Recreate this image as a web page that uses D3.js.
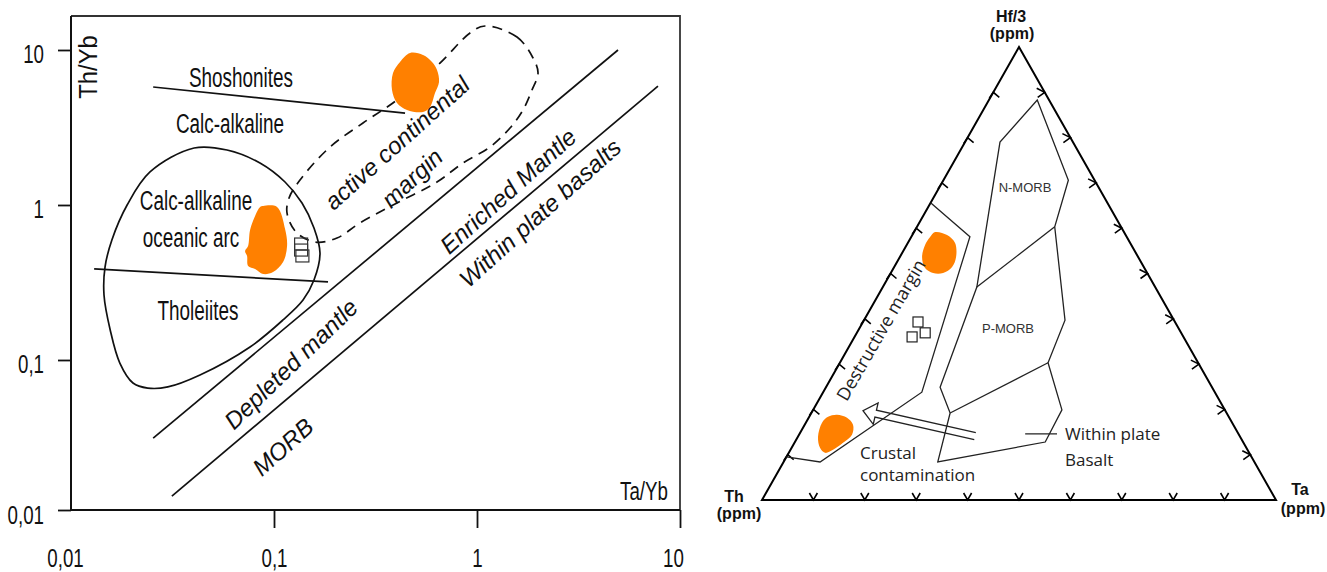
<!DOCTYPE html>
<html><head><meta charset="utf-8">
<script src="https://cdn.jsdelivr.net/npm/d3@7"></script>
<style>
html,body{margin:0;padding:0;background:#fff;}
svg{display:block;}
</style></head><body>
<svg id="chart" width="1327" height="572"></svg>
<script>
// ================= DATA : left panel (Th/Yb vs Ta/Yb, log-log) =================
const tickValues = [0.01, 0.1, 1, 10];
const tickLabels = ["0,01", "0,1", "1", "10"];
const shoshoniteLine = [[0.0254, 5.77], [0.442, 3.92]];
const tholeiiteLine  = [[0.013, 0.387], [0.1845, 0.319]];
const upperArrayLine = [[0.0254, 0.0313], [4.95, 10.0]];
const lowerArrayLine = [[0.0314, 0.01325], [7.79, 5.85]];
const oceanicArcEnvelope = [
  [0.0404,2.332],[0.0587,2.264],[0.0853,1.866],[0.1133,1.407],[0.1374,1.030],[0.1574,0.711],
  [0.1685,0.490],[0.1574,0.328],[0.139,0.2438],[0.1107,0.1812],[0.0762,0.1213],[0.0432,0.0800],
  [0.0300,0.0670],[0.0239,0.0659],[0.0202,0.0711],[0.0174,0.0956],[0.0156,0.1562],[0.01454,0.2626],
  [0.01471,0.398],[0.0159,0.5945],[0.0189,0.9995],[0.0245,1.633]
];
const continentalMarginEnvelope = [
  [1.095,14.28],[1.574,12.13],[1.888,8.88],[1.998,7.106],[1.866,5.52],[1.685,4.10],[1.454,3.138],
  [1.159,2.367],[0.853,1.866],[0.635,1.407],[0.4036,1.030],[0.2652,0.766],[0.2043,0.612],
  [0.1592,0.577],[0.1284,0.669],[0.1159,0.888],[0.1186,1.109],[0.1343,1.450],[0.1888,2.367],
  [0.2744,3.381],[0.4036,4.758],[0.657,8.243],[0.924,12.87]
];
const leftFieldCentres = [[0.0914, 0.5945], [0.495, 6.13]];   // orange literature fields
const sampleTaYb = [0.136, 0.136, 0.138];
const sampleThYb = [0.560, 0.512, 0.469];

// ================= DATA : right panel ternary  [Th, Hf/3, Ta] in % =================
const destructiveMargin = [[34.4,65.6,0],[30.5,58.1,11.4],[57.0,23.8,19.2],[84.5,8.4,7.1],[90.5,9.5,0]];
const morbOutline = [[2.3,88.3,9.4],[5.1,70.6,24.3],[12.9,60.3,26.8],[21.2,39.7,39.1],[29.2,30.3,40.5],
  [31.7,19.9,48.4],[38.5,12.8,48.7],[61.6,8.4,30.0],[53.8,19.2,27.0],[52.9,24.9,22.2],[34.7,47.0,18.3],[14.2,79.0,6.8]];
const nmorbDivider = [[12.9,60.3,26.8],[34.7,47.0,18.3]];
const pmorbDivider = [[53.8,19.2,27.0],[29.2,30.3,40.5]];
const wpbLeader = [[41.5,14.6,43.9],[35.3,14.6,50.1]];
const crustalArrow = [[51.5,14.1,34.4],[70.5,19.7,9.8]];  // tail, tip
const ternFieldCentres = [[38.3,54.5,7.2],[78.3,14.6,7.1]];
const ternSamples = [[50.0,39.3,10.7],[52.8,36.0,11.2],[49.8,36.9,13.3]];
const ternTicks = [10,20,30,40,50,60,70,80,90];

// shapes of the hand-drawn orange fields (pixel outline around centre)
const blobLeft1 = [[-3,-34],[11,-33],[19,-11],[21,6],[17,22],[7,32],[-3,34],[-11,29],[-18,26],[-19,16],[-21,11],[-18,6],[-16,-10],[-11,-24],[-6,-33]];
const blobLeft2 = [[-5,-30],[8,-28],[17,-21],[22,-13],[24,-1],[20,10],[15,24],[8,29],[-8,27],[-18,20],[-23,7],[-22,-10],[-15,-21]];
const blobTern1 = [[-4,-21],[8,-18],[16,-10],[17,4],[13,14],[4,20],[-6,20],[-14,15],[-17,4],[-14,-8],[-9,-16]];
const blobTern2 = [[1,-19],[11,-16],[17,-9],[16,1],[7,9],[-3,16],[-11,19],[-16,14],[-18,3],[-14,-11],[-8,-17]];

// ================= DRAWING =================
const svg = d3.select("#chart");
const ORANGE = "#FF8000";
const INK = "#111";
const SANS = "'Liberation Sans',Arial,sans-serif";
const HUM = "'Open Sans','Noto Sans',sans-serif";

function condense(sel, f){
  sel.each(function(){
    const w = this.getComputedTextLength();
    d3.select(this).attr("textLength", w*f).attr("lengthAdjust","spacingAndGlyphs");
  });
  return sel;
}

// ---------- left panel ----------
const x = d3.scaleLog().domain([0.01, 10]).range([71, 680]);
const y = d3.scaleLog().domain([0.01077, 16.57]).range([510, 16]).clamp(true);
const L = svg.append("g");
const [x0, x1] = x.range(), [y0, y1] = y.range();

// frame (top/right)
L.append("path").attr("d", `M${x0},${y1}H${x1}V${y0}`).attr("fill","none").attr("stroke","#333").attr("stroke-width",1.8);

// axes
const yAxis = d3.axisLeft(y).tickValues(tickValues).tickSize(13).tickPadding(14)
  .tickFormat((d,i)=>tickLabels[i]);
const gy = L.append("g").attr("transform",`translate(${x0},0)`).call(yAxis);
const xAxis = d3.axisBottom(x).tickValues(tickValues).tickSize(18).tickPadding(14)
  .tickFormat((d,i)=>tickLabels[i]);
const gx = L.append("g").attr("transform",`translate(0,${y0})`).call(xAxis);
[gx, gy].forEach(g=>{
  g.select(".domain").remove();
  g.attr("font-family", SANS).attr("font-size", 26);
  g.selectAll(".tick line").attr("stroke", INK).attr("stroke-width", 1.8);
  g.selectAll(".tick text").attr("fill", INK);
  condense(g.selectAll(".tick text"), 0.72);
});
gy.selectAll(".tick text").attr("dy", null).attr("y", 13);
gx.selectAll(".tick text").attr("dy", null).attr("y", 57);
gx.selectAll(".tick").filter(d=>d===0.01).select("line").remove();
gx.selectAll(".tick").filter(d=>d===0.01).select("text").attr("x",-6);
gx.selectAll(".tick").filter(d=>d===10).select("text").attr("x",-7);
// axis lines
L.append("path").attr("d", `M${x0},${y1}V${y0}H${x1}`).attr("fill","none").attr("stroke",INK).attr("stroke-width",2);

// axis titles
condense(L.append("text").attr("transform",`translate(97,67) rotate(-90)`).attr("text-anchor","middle")
  .attr("font-family",SANS).attr("font-size",25).attr("fill",INK).text("Th/Yb"), 0.95);
condense(L.append("text").attr("x",668).attr("y",500).attr("text-anchor","end")
  .attr("font-family",SANS).attr("font-size",25).attr("fill",INK).text("Ta/Yb"), 0.75);

const lineGen = d3.line().x(d=>x(d[0])).y(d=>y(d[1]));
[shoshoniteLine, tholeiiteLine, upperArrayLine, lowerArrayLine].forEach(ln=>{
  L.append("path").attr("d", lineGen(ln)).attr("fill","none").attr("stroke",INK).attr("stroke-width",1.7);
});
L.append("path").attr("d", lineGen.curve(d3.curveCatmullRomClosed)(oceanicArcEnvelope))
  .attr("fill","none").attr("stroke",INK).attr("stroke-width",1.7);
L.append("path").attr("d", lineGen.curve(d3.curveCatmullRomClosed)(continentalMarginEnvelope))
  .attr("fill","none").attr("stroke",INK).attr("stroke-width",1.7).attr("stroke-dasharray","10,7");

const blobGen = d3.line().curve(d3.curveCatmullRomClosed);
function blob(g, cx, cy, shape){
  g.append("path").attr("d", blobGen(shape.map(o=>[cx+o[0], cy+o[1]]))).attr("fill",ORANGE).attr("stroke","none");
}
blob(L, x(leftFieldCentres[0][0]), y(leftFieldCentres[0][1]), blobLeft1);
blob(L, x(leftFieldCentres[1][0]), y(leftFieldCentres[1][1]), blobLeft2);

sampleTaYb.forEach((v,i)=>{
  L.append("rect").attr("x", x(v)-6.5).attr("y", y(sampleThYb[i])-6).attr("width",13).attr("height",12)
    .attr("fill","none").attr("stroke","#333").attr("stroke-width",1.2);
});

// horizontal labels
const hLab = [["Shoshonites",241,87],["Calc-alkaline",230,133],["Calc-allkaline",196,210],["oceanic arc",191,247],["Tholeiites",198,320]];
hLab.forEach(t=>condense(L.append("text").attr("x",t[1]).attr("y",t[2]).attr("text-anchor","middle")
  .attr("font-family",SANS).attr("font-size",27).attr("fill",INK).text(t[0]), 0.7));
// rotated italic labels
const rLab = [["active continental",397,143,-42],["margin",412,178,-43],["Enriched Mantle",508,191,-42],
  ["Within plate basalts",540,213,-42],["Depleted mantle",291,364,-44],["MORB",283,447,-42]];
rLab.forEach(t=>L.append("text").attr("transform",`translate(${t[1]},${t[2]}) rotate(${t[3]})`)
  .attr("text-anchor","middle").attr("dy","0.35em").attr("font-style","italic")
  .attr("font-family",SANS).attr("font-size",24).attr("fill",INK).text(t[0]));

// ---------- right panel : ternary ----------
const R = svg.append("g");
const hfY  = d3.scaleLinear().domain([0,100]).range([500,47]);
const hfDX = d3.scaleLinear().domain([0,100]).range([0,257]);
const taDX = d3.scaleLinear().domain([0,100]).range([0,514]);
const proj = p => [762 + hfDX(p[1]) + taDX(p[2]), hfY(p[1])];
const tline = d3.line().x(d=>proj(d)[0]).y(d=>proj(d)[1]);
const TC = "#222";

R.append("path").attr("d", tline([[100,0,0],[0,100,0],[0,0,100]])+"Z").attr("fill","none")
  .attr("stroke","#000").attr("stroke-width",2).attr("stroke-linejoin","miter");

const tickG = R.append("g").attr("fill","none").attr("stroke","#000").attr("stroke-width",1.6);
ternTicks.forEach(k=>{
  const pl = proj([100-k,k,0]), pr = proj([0,k,100-k]), pb = proj([100-k,0,k]);
  tickG.append("path").attr("d",`M${pl[0]-4},${pl[1]+6}L${pl[0]},${pl[1]}L${pl[0]+6},${pl[1]+5}`);
  tickG.append("path").attr("d",`M${pr[0]-8},${pr[1]-4}L${pr[0]},${pr[1]}L${pr[0]-7},${pr[1]+5}`);
  tickG.append("path").attr("d",`M${pb[0]-4},${pb[1]-7}L${pb[0]},${pb[1]}L${pb[0]+4},${pb[1]-7}`);
});

[destructiveMargin, nmorbDivider, pmorbDivider, wpbLeader].forEach(ln=>
  R.append("path").attr("d", tline(ln)).attr("fill","none").attr("stroke",TC).attr("stroke-width",1.3));
R.append("path").attr("d", tline(morbOutline)+"Z").attr("fill","none").attr("stroke",TC).attr("stroke-width",1.3);

// crustal contamination arrow
(function(){
  const p0 = proj(crustalArrow[0]), p1 = proj(crustalArrow[1]);
  const dx=p1[0]-p0[0], dy=p1[1]-p0[1], len=Math.hypot(dx,dy);
  const ux=dx/len, uy=dy/len, nx=-uy, ny=ux, sw=3.5, hw=11, hl=13;
  const b=[p1[0]-ux*hl, p1[1]-uy*hl];
  const pts=[[p0[0]+nx*sw,p0[1]+ny*sw],[b[0]+nx*sw,b[1]+ny*sw],[b[0]+nx*hw,b[1]+ny*hw],p1,
    [b[0]-nx*hw,b[1]-ny*hw],[b[0]-nx*sw,b[1]-ny*sw],[p0[0]-nx*sw,p0[1]-ny*sw]];
  R.append("path").attr("d", d3.line()(pts)).attr("fill","none").attr("stroke",TC).attr("stroke-width",1.3);
})();

blob(R, ...proj(ternFieldCentres[0]), blobTern1);
blob(R, ...proj(ternFieldCentres[1]), blobTern2);
ternSamples.forEach(s=>{
  const p = proj(s);
  R.append("rect").attr("x",p[0]-5).attr("y",p[1]-5).attr("width",10).attr("height",10)
    .attr("fill","none").attr("stroke",TC).attr("stroke-width",1.2);
});

// vertex labels
const vLab = [["Hf/3",1011,22],["(ppm)",1012,39],["Th",734,502],["(ppm)",739,519],["Ta",1300,495],["(ppm)",1303,514]];
vLab.forEach(t=>R.append("text").attr("x",t[1]).attr("y",t[2]).attr("text-anchor","middle")
  .attr("font-family",SANS).attr("font-weight","bold").attr("font-size",16).attr("fill","#111").text(t[0]));
[["N-MORB",1025,192],["P-MORB",1008,333]].forEach(t=>R.append("text").attr("x",t[1]).attr("y",t[2])
  .attr("text-anchor","middle").attr("font-family",SANS).attr("font-size",13).attr("fill","#333").text(t[0]));
[["Crustal",860,459],["contamination",860,481],["Within plate",1065,440],["Basalt",1065,466]].forEach(t=>
  R.append("text").attr("x",t[1]).attr("y",t[2]).attr("font-family",HUM).attr("font-size",17).attr("fill","#222").text(t[0]));
R.append("text").attr("transform","translate(881,330) rotate(-60)").attr("text-anchor","middle").attr("dy","0.35em")
  .attr("font-family",HUM).attr("font-size",18).attr("fill","#222").text("Destructive margin");
</script>
</body></html>
